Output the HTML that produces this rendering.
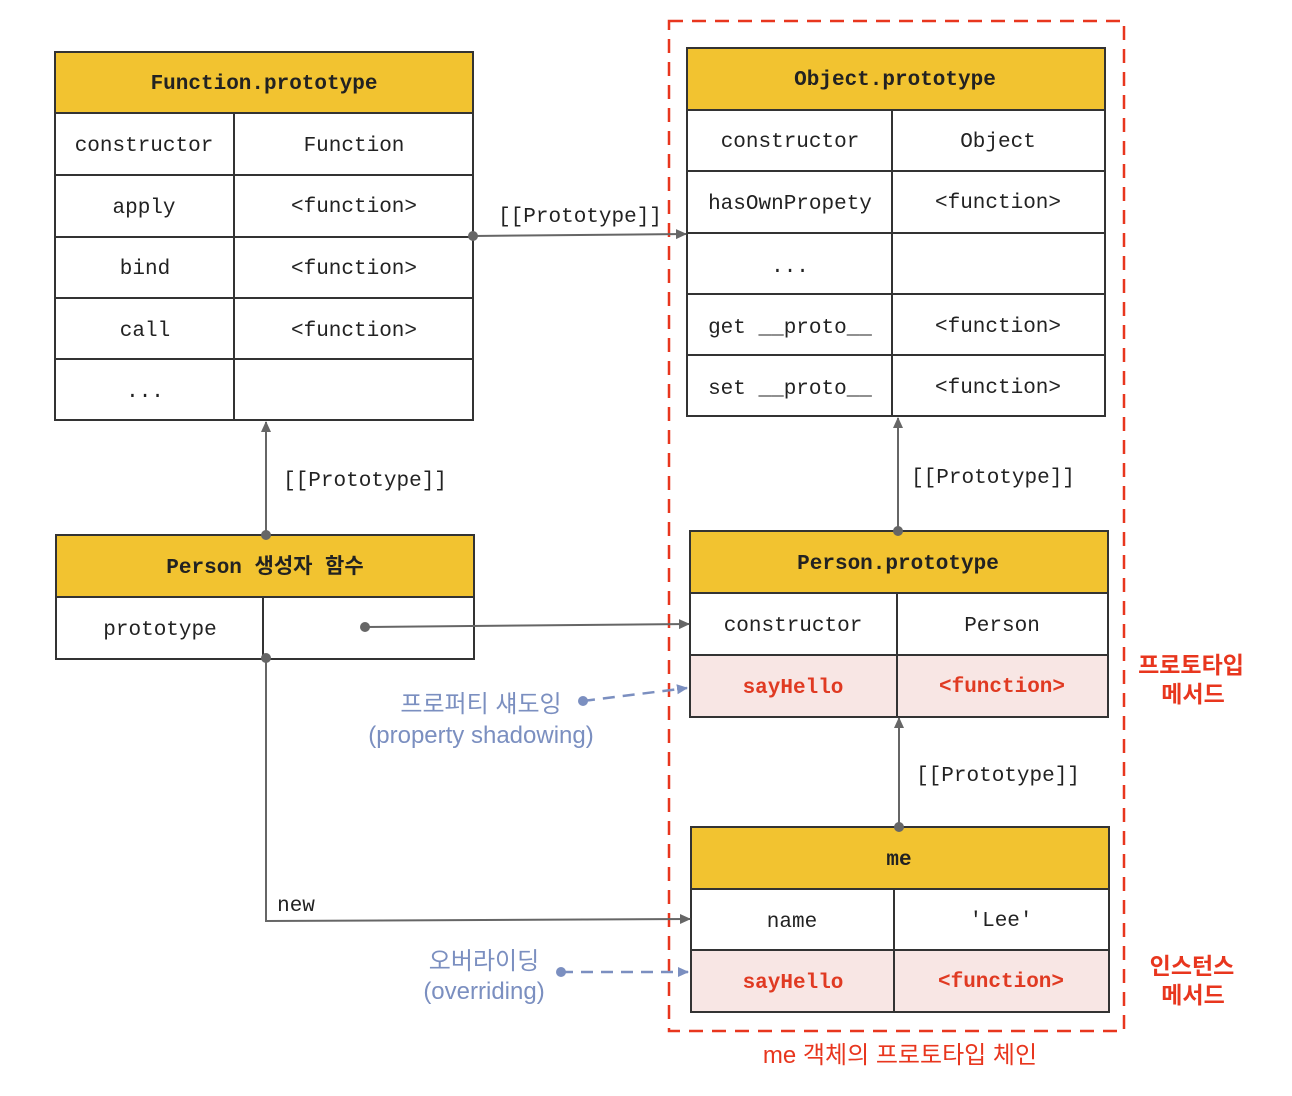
<!DOCTYPE html>
<html><head><meta charset="utf-8"><style>
html,body{margin:0;padding:0;background:#fff;}
svg{display:block}
.m{font-family:"Liberation Mono","DejaVu Sans Mono",monospace;font-size:21px;fill:#222;}
.b{font-weight:bold;}
.r{fill:#e03a22;font-weight:bold;}
.k{font-family:"Liberation Sans","Noto Sans CJK KR",sans-serif;}
</style></head><body>
<svg width="1292" height="1096" viewBox="0 0 1292 1096" xmlns="http://www.w3.org/2000/svg">
<defs>
<marker id="a" markerWidth="12" markerHeight="12" refX="10" refY="5" orient="auto" markerUnits="userSpaceOnUse"><path d="M0,0 L11,5 L0,10 z" fill="#666"/></marker>
<marker id="ab" markerWidth="12" markerHeight="12" refX="10" refY="5" orient="auto" markerUnits="userSpaceOnUse"><path d="M0,0 L11,5 L0,10 z" fill="#7b8fc0"/></marker>
</defs>

<!-- red dashed region -->
<rect x="669" y="21" width="455" height="1010" fill="none" stroke="#e8361e" stroke-width="2.5" stroke-dasharray="14,9"/>

<g stroke="#333" stroke-width="2">
<!-- Function.prototype -->
<rect x="55" y="52" width="418" height="61" fill="#f2c330"/>
<rect x="55" y="113" width="418" height="307" fill="#fff"/>
<line x1="55" y1="175" x2="473" y2="175"/><line x1="55" y1="237" x2="473" y2="237"/>
<line x1="55" y1="298" x2="473" y2="298"/><line x1="55" y1="359" x2="473" y2="359"/>
<line x1="234" y1="113" x2="234" y2="420"/>
<!-- Object.prototype -->
<rect x="687" y="48" width="418" height="62" fill="#f2c330"/>
<rect x="687" y="110" width="418" height="306" fill="#fff"/>
<line x1="687" y1="171" x2="1105" y2="171"/><line x1="687" y1="233" x2="1105" y2="233"/>
<line x1="687" y1="294" x2="1105" y2="294"/><line x1="687" y1="355" x2="1105" y2="355"/>
<line x1="892" y1="110" x2="892" y2="416"/>
<!-- Person ctor -->
<rect x="56" y="535" width="418" height="62" fill="#f2c330"/>
<rect x="56" y="597" width="418" height="62" fill="#fff"/>
<line x1="263" y1="597" x2="263" y2="659"/>
<!-- Person.prototype -->
<rect x="690" y="531" width="418" height="62" fill="#f2c330"/>
<rect x="690" y="593" width="418" height="62" fill="#fff"/>
<rect x="690" y="655" width="418" height="62" fill="#f8e6e4"/>
<line x1="897" y1="593" x2="897" y2="717"/>
<!-- me -->
<rect x="691" y="827" width="418" height="62" fill="#f2c330"/>
<rect x="691" y="889" width="418" height="61" fill="#fff"/>
<rect x="691" y="950" width="418" height="62" fill="#f8e6e4"/>
<line x1="894" y1="889" x2="894" y2="1012"/>
</g>

<!-- connectors -->
<g stroke="#666" stroke-width="2" fill="none">
<line x1="473" y1="236" x2="686" y2="234" marker-end="url(#a)"/>
<line x1="266" y1="535" x2="266" y2="422" marker-end="url(#a)"/>
<line x1="365" y1="627" x2="689" y2="624" marker-end="url(#a)"/>
<polyline points="266,658 266,921 690,919" marker-end="url(#a)"/>
<line x1="898" y1="531" x2="898" y2="418" marker-end="url(#a)"/>
<line x1="899" y1="827" x2="899" y2="718" marker-end="url(#a)"/>
</g>
<g fill="#666">
<circle cx="473" cy="236" r="5"/><circle cx="266" cy="535" r="5"/><circle cx="365" cy="627" r="5"/>
<circle cx="266" cy="658" r="5"/><circle cx="898" cy="531" r="5"/><circle cx="899" cy="827" r="5"/>
</g>
<g stroke="#7b8fc0" stroke-width="2.5" fill="none" stroke-dasharray="12,8">
<line x1="583" y1="701" x2="687" y2="688" marker-end="url(#ab)"/>
<line x1="561" y1="972" x2="688" y2="972" marker-end="url(#ab)"/>
</g>
<g fill="#7b8fc0"><circle cx="583" cy="701" r="5"/><circle cx="561" cy="972" r="5"/></g>

<!-- text -->
<g class="m" text-anchor="middle">
<text x="264" y="89" class="b">Function.prototype</text>
<text x="144" y="151">constructor</text><text x="354" y="151">Function</text>
<text x="144" y="213">apply</text><text x="354" y="212">&lt;function&gt;</text>
<text x="145" y="274">bind</text><text x="354" y="274">&lt;function&gt;</text>
<text x="145" y="336">call</text><text x="354" y="336">&lt;function&gt;</text>
<text x="145" y="397">...</text>

<text x="895" y="85" class="b">Object.prototype</text>
<text x="790" y="147">constructor</text><text x="998" y="147">Object</text>
<text x="790" y="209">hasOwnPropety</text><text x="998" y="208">&lt;function&gt;</text>
<text x="790" y="272">...</text>
<text x="790" y="333">get __proto__</text><text x="998" y="332">&lt;function&gt;</text>
<text x="790" y="394">set __proto__</text><text x="998" y="393">&lt;function&gt;</text>

<text x="265" y="573" class="b k" style="font-family:'Liberation Mono','Noto Sans CJK KR',monospace">Person 생성자 함수</text>
<text x="160" y="635">prototype</text>

<text x="898" y="569" class="b">Person.prototype</text>
<text x="793" y="631">constructor</text><text x="1002" y="631">Person</text>
<text x="793" y="693" class="r">sayHello</text><text x="1002" y="692" class="r">&lt;function&gt;</text>

<text x="899" y="865" class="b">me</text>
<text x="792" y="927">name</text><text x="1001" y="926">'Lee'</text>
<text x="793" y="988" class="r">sayHello</text><text x="1001" y="987" class="r">&lt;function&gt;</text>

<text x="580" y="222">[[Prototype]]</text>
<text x="365" y="486">[[Prototype]]</text>
<text x="993" y="483">[[Prototype]]</text>
<text x="998" y="781">[[Prototype]]</text>
<text x="296" y="911">new</text>
</g>

<g class="k" text-anchor="middle" font-size="24" fill="#7b8fc0">
<text x="481" y="712">프로퍼티 섀도잉</text>
<text x="481" y="743">(property shadowing)</text>
<text x="484" y="969">오버라이딩</text>
<text x="484" y="999">(overriding)</text>
</g>
<g class="k" text-anchor="middle" font-size="23" fill="#e8361e" font-weight="bold">
<text x="1191" y="673">프로토타입</text>
<text x="1193" y="702">메서드</text>
<text x="1192" y="974">인스턴스</text>
<text x="1193" y="1003">메서드</text>
<text x="900" y="1063" font-weight="normal" font-size="24">me 객체의 프로토타입 체인</text>
</g>
</svg>
</body></html>
